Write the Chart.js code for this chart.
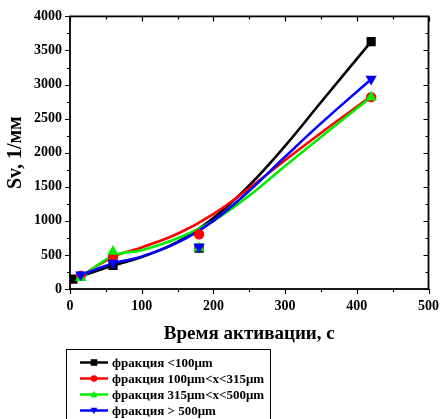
<!DOCTYPE html>
<html>
<head>
<meta charset="utf-8">
<script src="https://cdn.jsdelivr.net/npm/chart.js@4.4.0/dist/chart.umd.min.js"></script>
<style>
  html, body { margin: 0; padding: 0; background: #fff; }
  #wrap { width: 448px; height: 419px; position: relative; }
</style>
</head>
<body>
<div id="wrap"><canvas id="svChart"></canvas></div>
<script>
// measured points
var blackX = [4, 60, 180, 420];
var blackY = [146, 345, 600, 3630];
var redX = [15, 60, 180, 420];
var redY = [195, 470, 804, 2815];
var greenX = [15, 60, 180, 420];
var greenY = [165, 550, 600, 2815];
var blueX = [15, 60, 180, 420];
var blueY = [210, 380, 615, 3080];

// fitted curves
var blackFitX = [4, 60, 100, 150, 200, 250, 300, 350, 420];
var blackFitY = [146, 345, 470, 690, 1040, 1520, 2100, 2740, 3630];
var redFitX = [15, 60, 100, 150, 200, 250, 300, 350, 420];
var redFitY = [190, 470, 610, 810, 1100, 1480, 1890, 2290, 2826];
var greenFitX = [15, 60, 100, 150, 200, 250, 300, 350, 420];
var greenFitY = [165, 487, 570, 745, 1000, 1370, 1805, 2230, 2815];
var blueFitX = [15, 60, 100, 150, 200, 250, 300, 350, 420];
var blueFitY = [205, 375, 475, 680, 1000, 1440, 1940, 2430, 3079];

var xTicks = [0, 100, 200, 300, 400, 500];
var yTicks = [0, 500, 1000, 1500, 2000, 2500, 3000, 3500, 4000];

var seriesNames = ['фракция <100μm', 'фракция 100μm<x<315μm', 'фракция 315μm<x<500μm', 'фракция > 500μm'];
var seriesColors = ['#000000', '#ff0000', '#00ee00', '#0000ff'];
var seriesStyles = ['rect', 'circle', 'triangle', 'triangleDown'];

var FONT = '"Liberation Serif", "Times New Roman", serif';

function pts(xs, ys) {
    return xs.map(function(x, i) { return { x: x, y: ys[i] }; });
}

function markerSet(i, xs, ys, radius, order) {
    var style = seriesStyles[i];
    return {
        label: seriesNames[i],
        data: pts(xs, ys),
        showLine: false,
        pointStyle: style === 'triangleDown' ? 'triangle' : style,
        rotation: style === 'triangleDown' ? 180 : 0,
        pointRadius: radius,
        pointBackgroundColor: seriesColors[i],
        pointBorderColor: seriesColors[i],
        pointBorderWidth: 0,
        order: order
    };
}

function fitSet(i, xs, ys, order) {
    return {
        label: seriesNames[i] + ' fit',
        data: pts(xs, ys),
        showLine: true,
        borderColor: seriesColors[i],
        borderWidth: 2.6,
        pointRadius: 0,
        tension: 0.4,
        fill: false,
        order: order
    };
}

function drawMarker(ctx, style, x, y, r, color) {
    ctx.fillStyle = color;
    ctx.beginPath();
    if (style === 'rect') {
        ctx.rect(x - r, y - r, 2 * r, 2 * r);
    } else if (style === 'circle') {
        ctx.arc(x, y, r, 0, Math.PI * 2);
    } else if (style === 'triangle') {
        ctx.moveTo(x, y - r * 1.1);
        ctx.lineTo(x + r, y + r * 0.8);
        ctx.lineTo(x - r, y + r * 0.8);
    } else {
        ctx.moveTo(x, y + r * 1.1);
        ctx.lineTo(x + r, y - r * 0.8);
        ctx.lineTo(x - r, y - r * 0.8);
    }
    ctx.closePath();
    ctx.fill();
}

// box frame with ticks on all four sides, plus the legend panel
var framePlugin = {
    id: 'frame',
    afterDraw: function(chart) {
        var ctx = chart.ctx;
        var a = chart.chartArea;
        var xs = chart.scales.x, ys = chart.scales.y;
        ctx.save();
        ctx.strokeStyle = '#000';
        ctx.lineWidth = 1.8;
        ctx.strokeRect(a.left, a.top, a.right - a.left, a.bottom - a.top);

        ctx.lineWidth = 1.2;
        ctx.beginPath();
        xTicks.forEach(function(v, i) {
            var marks = [[v, 5]];
            if (i < xTicks.length - 1) marks.push([(v + xTicks[i + 1]) / 2, 3]);
            marks.forEach(function(m) {
                var px = Math.round(xs.getPixelForValue(m[0])) + 0.5;
                ctx.moveTo(px, a.bottom); ctx.lineTo(px, a.bottom + m[1]);
                ctx.moveTo(px, a.top); ctx.lineTo(px, a.top + m[1]);
            });
        });
        yTicks.forEach(function(v, i) {
            var marks = [[v, 5]];
            if (i < yTicks.length - 1) marks.push([(v + yTicks[i + 1]) / 2, 3]);
            marks.forEach(function(m) {
                var py = Math.round(ys.getPixelForValue(m[0])) + 0.5;
                ctx.moveTo(a.left - m[1], py); ctx.lineTo(a.left, py);
                ctx.moveTo(a.right - m[1], py); ctx.lineTo(a.right, py);
            });
        });
        ctx.stroke();

        // legend
        var bx = 66, by = 349, bw = 204;
        ctx.lineWidth = 1;
        ctx.strokeRect(bx + 0.5, by + 0.5, bw, 80);
        ctx.font = 'bold 13px ' + FONT;
        ctx.textBaseline = 'middle';
        ctx.textAlign = 'left';
        seriesNames.forEach(function(name, i) {
            var ry = 362.5 + i * 16;
            ctx.strokeStyle = seriesColors[i];
            ctx.lineWidth = 2.5;
            ctx.beginPath();
            ctx.moveTo(80, ry); ctx.lineTo(108, ry);
            ctx.stroke();
            drawMarker(ctx, seriesStyles[i], 94, ry, 3.3, seriesColors[i]);
            ctx.fillStyle = '#000';
            ctx.fillText(name, 112, ry + 1);
        });
        ctx.restore();
    }
};

var ctx = document.getElementById('svChart').getContext('2d');
var svChart = new Chart(ctx, {
    type: 'scatter',
    data: {
        datasets: [
            markerSet(3, blueX, blueY, 6.5, 0),
            markerSet(2, greenX, greenY, 6.5, 1),
            markerSet(1, redX, redY, 5.2, 2),
            markerSet(0, blackX, blackY, 6.5, 3),
            fitSet(3, blueFitX, blueFitY, 4),
            fitSet(2, greenFitX, greenFitY, 5),
            fitSet(1, redFitX, redFitY, 6),
            fitSet(0, blackFitX, blackFitY, 7)
        ]
    },
    options: {
        responsive: true,
        maintainAspectRatio: false,
        animation: false,
        layout: { padding: { left: 0, top: 16, right: 11, bottom: 70 } },
        plugins: {
            legend: { display: false },
            tooltip: { enabled: false }
        },
        scales: {
            x: {
                type: 'linear',
                min: 0,
                max: 500,
                afterBuildTicks: function(scale) {
                    scale.ticks = xTicks.map(function(v) { return { value: v }; });
                },
                afterFit: function(scale) { scale.height = 60; },
                grid: { display: false, drawTicks: false },
                border: { display: false },
                ticks: {
                    padding: 9,
                    color: '#000',
                    maxRotation: 0,
                    font: { family: FONT, size: 14, weight: 'bold' },
                    callback: function(value) { return String(value); }
                },
                title: {
                    display: true,
                    text: 'Время активации, с',
                    color: '#000',
                    font: { family: FONT, size: 19, weight: 'bold' },
                    padding: { top: 0, bottom: 4 }
                }
            },
            y: {
                type: 'linear',
                min: 0,
                max: 4000,
                afterBuildTicks: function(scale) {
                    scale.ticks = yTicks.map(function(v) { return { value: v }; });
                },
                afterFit: function(scale) { scale.width = 70; },
                grid: { display: false, drawTicks: false },
                border: { display: false },
                ticks: {
                    padding: 8,
                    color: '#000',
                    font: { family: FONT, size: 14, weight: 'bold' },
                    callback: function(value) { return String(value); }
                },
                title: {
                    display: true,
                    text: 'Sv, 1/мм',
                    color: '#000',
                    font: { family: FONT, size: 20, weight: 'bold' },
                    padding: { top: 4, bottom: 0 }
                }
            }
        }
    },
    plugins: [framePlugin]
});
</script>
</body>
</html>
